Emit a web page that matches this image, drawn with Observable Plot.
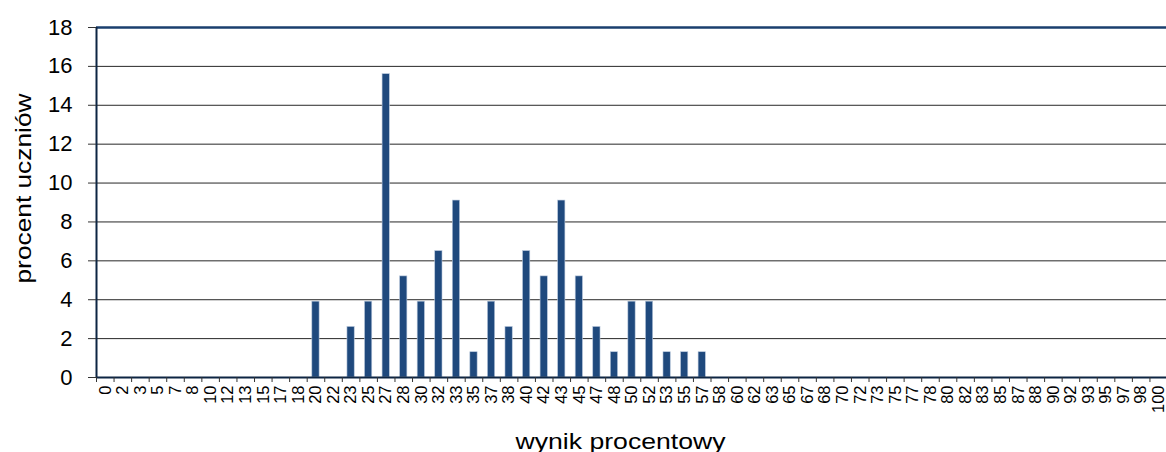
<!DOCTYPE html>
<html>
<head>
<meta charset="utf-8">
<script src="https://cdn.jsdelivr.net/npm/d3@7"></script>
<script src="https://cdn.jsdelivr.net/npm/@observablehq/plot@0.6"></script>
<style>
  html, body { margin: 0; padding: 0; background: #fff; overflow: hidden; }
  #chart svg { display: block; overflow: visible; }
</style>
</head>
<body>
<div id="chart"></div>
<script>
// Categories: percentage score
const categories = ["0","2","3","5","7","8","10","12","13","15","17","18","20","22","23","25","27","28","30","32","33","35","37","38","40","42","43","45","47","48","50","52","53","55","57","58","60","62","63","65","67","68","70","72","73","75","77","78","80","82","83","85","87","88","90","92","93","95","97","98","100"];
// Percent of students per score
const values = [0,0,0,0,0,0,0,0,0,0,0,0,3.9,0,2.6,3.9,15.6,5.2,3.9,6.5,9.1,1.3,3.9,2.6,6.5,5.2,9.1,5.2,2.6,1.3,3.9,3.9,1.3,1.3,1.3,0,0,0,0,0,0,0,0,0,0,0,0,0,0,0,0,0,0,0,0,0,0,0,0,0,0];
const yTicks = [0,2,4,6,8,10,12,14,16,18];
const xTitle = "wynik procentowy";
const yTitle = "procent uczniów";

const data = categories.map((c, i) => ({i, cat: c, value: values[i]}));
const boundaries = d3.range(categories.length + 1).map(i => i - 0.5);

const barHalf = 0.207;
const chart = Plot.plot({
  width: 1166,
  height: 452,
  marginTop: 27,
  marginBottom: 75,
  marginLeft: 96,
  marginRight: 0,
  style: {fontFamily: "'Liberation Sans', Arial, sans-serif", background: "#fff", color: "#000"},
  x: {type: "linear", domain: [-0.5, categories.length - 0.5], range: [96, 1167], axis: null},
  y: {domain: [0, 18], range: [377, 27], axis: null},
  marks: [
    Plot.ruleY(yTicks.filter(v => v > 0 && v < 18), {stroke: "#000", strokeWidth: 1, strokeOpacity: 0.85}),
    Plot.rectY(data.filter(d => d.value > 0), {
      x1: d => d.i - barHalf, x2: d => d.i + barHalf, y1: 0, y2: "value",
      fill: "#1f497d", stroke: "#b9c8dc", strokeWidth: 0.6
    }),
    Plot.ruleY([18], {stroke: "#1a3f6e", strokeWidth: 2.5}),
    Plot.ruleY([0], {stroke: "#0d2543", strokeWidth: 2}),
    Plot.ruleX([-0.5], {stroke: "#0d2543", strokeWidth: 2}),
    Plot.axisY({ticks: yTicks, tickSize: 8, tickPadding: 16, fontSize: 22, label: null, stroke: "#333"}),
    Plot.axisX({ticks: boundaries, tickSize: 5, tickFormat: () => "", label: null, stroke: "#333"}),
    Plot.axisX({ticks: d3.range(categories.length), tickFormat: i => categories[i], tickSize: 0, tickPadding: 8, tickRotate: -90, fontSize: 16.5, label: null}),
    Plot.text([yTitle], {frameAnchor: "left", rotate: -90, dx: -73, dy: -14, fontSize: 22, lineAnchor: "middle", textAnchor: "middle", className: "ytitle"}),
    Plot.text([xTitle], {frameAnchor: "bottom", dx: -11, dy: 64, fontSize: 22, lineAnchor: "middle", textAnchor: "middle", className: "xtitle"})
  ]
});
document.getElementById("chart").appendChild(chart);
d3.select(chart).selectAll(".xtitle text").attr("textLength", 210).attr("lengthAdjust", "spacingAndGlyphs");
d3.select(chart).selectAll(".ytitle text").attr("textLength", 190).attr("lengthAdjust", "spacingAndGlyphs");
</script>
</body>
</html>
